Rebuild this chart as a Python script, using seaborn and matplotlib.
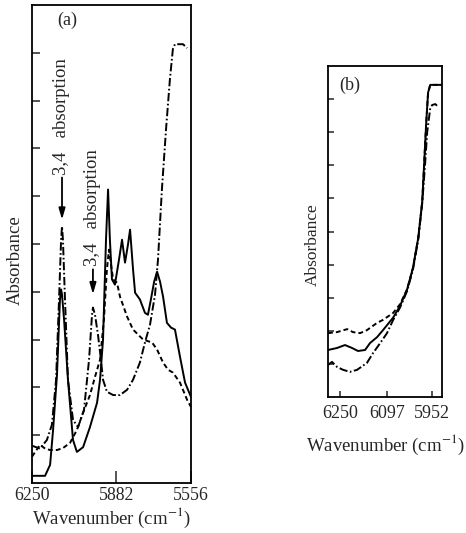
import matplotlib
matplotlib.use("Agg")
import matplotlib.pyplot as plt
import seaborn as sns
import pandas as pd

# ---------------- data: panel (a) ----------------
a_solid_wn = [6250, 6193, 6171, 6158, 6141, 6128, 6123, 6119, 6110, 6093,
              6071, 6054, 6027, 5997, 5966, 5953, 5940, 5927, 5918, 5910,
              5901, 5888, 5870, 5857, 5844, 5831, 5822, 5809, 5800, 5779,
              5757, 5744, 5731, 5717, 5704, 5691, 5678, 5661, 5643, 5626,
              5604, 5582, 5556]
a_solid_abs = [0.15, 0.15, 0.38, 1.11, 2.26, 3.84, 4.05, 3.94, 3.42, 2.16,
               0.90, 0.65, 0.75, 1.17, 1.68, 2.16, 3.00, 5.09, 6.14, 5.09,
               4.26, 4.15, 4.68, 5.09, 4.61, 4.99, 5.30, 4.47, 3.98, 3.84,
               3.56, 3.52, 3.84, 4.21, 4.42, 4.21, 3.90, 3.35, 3.25, 3.21,
               2.64, 2.10, 1.80]

a_dash_wn = [6250, 6215, 6193, 6171, 6141, 6115, 6084, 6054, 6027, 5997,
             5975, 5953, 5936, 5923, 5914, 5905, 5896, 5879, 5866, 5835,
             5809, 5765, 5726, 5704, 5678, 5656, 5635, 5604, 5573, 5556]
a_dash_abs = [0.55, 0.80, 0.72, 0.69, 0.69, 0.73, 0.84, 1.11, 1.47, 1.84,
              2.22, 2.58, 3.42, 4.47, 4.88, 4.57, 4.26, 4.19, 3.90, 3.48,
              3.21, 3.00, 2.94, 2.79, 2.52, 2.37, 2.31, 2.10, 1.74, 1.59]

a_dashdot_wn = [6250, 6215, 6185, 6163, 6145, 6132, 6123, 6119, 6115, 6106,
                6093, 6071, 6049, 6023, 6001, 5988, 5984, 5975, 5962, 5949,
                5940, 5923, 5896, 5866, 5835, 5809, 5779, 5757, 5735, 5713,
                5700, 5683, 5665, 5648, 5635, 5626, 5591, 5573]
a_dashdot_abs = [0.78, 0.72, 0.90, 1.22, 2.16, 3.84, 5.09, 5.37, 5.09, 3.84,
                 2.16, 1.32, 1.17, 1.53, 2.58, 3.52, 3.67, 3.52, 3.10, 2.58,
                 2.16, 1.91, 1.84, 1.84, 1.95, 2.16, 2.52, 2.94, 3.31, 3.94,
                 4.68, 6.14, 7.40, 8.45, 9.08, 9.18, 9.18, 9.10]

a_xticks = [6250, 5882, 5556]
a_peak_labels = ["3,4   absorption", "3,4   absorption"]

# ---------------- data: panel (b) ----------------
b_solid_wn = [6289, 6260, 6234, 6211, 6192, 6169, 6153, 6130, 6111, 6078,
              6056, 6033, 6014, 5997, 5984, 5978, 5971, 5965, 5958, 5920]
b_solid_abs = [1.42, 1.48, 1.57, 1.48, 1.39, 1.42, 1.63, 1.81, 2.02, 2.40,
               2.75, 3.25, 3.90, 4.80, 5.90, 7.00, 8.30, 9.20, 9.43, 9.43]

b_dash_wn = [6289, 6260, 6227, 6208, 6185, 6163, 6130, 6111, 6078, 6056,
             6033, 6014, 5997, 5984, 5978, 5971, 5965, 5958, 5920]
b_dash_abs = [1.93, 1.96, 2.05, 1.96, 1.93, 2.02, 2.24, 2.33, 2.54, 2.80,
              3.25, 3.90, 4.80, 5.90, 7.00, 8.30, 9.20, 9.43, 9.43]

b_dashdot_wn = [6289, 6276, 6260, 6240, 6218, 6195, 6163, 6143, 6120, 6098,
                6078, 6056, 6033, 6014, 5997, 5984, 5975, 5968, 5958, 5952,
                5942, 5936]
b_dashdot_abs = [0.97, 1.06, 0.91, 0.82, 0.76, 0.82, 1.03, 1.33, 1.63, 1.93,
                 2.33, 2.70, 3.20, 3.85, 4.75, 5.85, 7.00, 8.00, 8.73, 8.82,
                 8.85, 8.80]

b_xticks = [6250, 6097, 5952]

# ---------------- style ----------------
sns.set_style("white")
plt.rcParams["font.family"] = ["Liberation Serif", "DejaVu Serif"]
plt.rcParams["mathtext.fontset"] = "stix"
plt.rcParams["lines.scale_dashes"] = False
plt.rcParams["axes.edgecolor"] = "black"
plt.rcParams["axes.linewidth"] = 1.3

DASH = (0, (3.5, 2.2))
DASHDOT = (0, (6, 1.8, 1.2, 1.8))
LW = 1.4

fig = plt.figure(figsize=(4.66, 5.33), dpi=100)
axa = fig.add_axes([32 / 466, 50 / 533, 159 / 466, 478 / 533])
axb = fig.add_axes([328 / 466, 136 / 533, 114 / 466, 331 / 533])


def draw(ax, wn, ab, ls):
    df = pd.DataFrame({"wn": wn, "abs": ab})
    sns.lineplot(data=df, x="wn", y="abs", ax=ax, color="black",
                 linestyle=ls, linewidth=LW, sort=False, estimator=None)


draw(axa, a_solid_wn, a_solid_abs, "-")
draw(axa, a_dash_wn, a_dash_abs, DASH)
draw(axa, a_dashdot_wn, a_dashdot_abs, DASHDOT)

draw(axb, b_solid_wn, b_solid_abs, "-")
draw(axb, b_dash_wn, b_dash_abs, DASH)
draw(axb, b_dashdot_wn, b_dashdot_abs, DASHDOT)

# axes (a)
axa.set_xlim(6250, 5556)
axa.set_ylim(0, 10)
axa.set_xticks(a_xticks)
axa.set_xticklabels([str(t) for t in a_xticks], fontsize=12.8)
axa.set_yticks(range(1, 10))
axa.set_yticklabels([])
axa.tick_params(axis="y", direction="in", length=6, width=1.1, left=True)
axa.tick_params(axis="x", direction="in", length=9, width=1.1, pad=3, bottom=True)
axa.set_xlabel("")
axa.set_ylabel("")
axa.text(0.22, 0.967, "(a)", transform=axa.transAxes, fontsize=13,
         ha="center", va="center")

# peak annotations (arrows point to the dash-dot peaks)
i1 = a_dashdot_abs.index(max(a_dashdot_abs[:12]))
i2 = 16
for idx, lab, gap, length in [(i1, a_peak_labels[0], 0.14, 0.88),
                              (i2, a_peak_labels[1], 0.28, 0.52)]:
    xw = a_dashdot_wn[idx]
    tip = a_dashdot_abs[idx] + gap
    tail = tip + length
    axa.annotate("", xy=(xw, tip), xytext=(xw, tail),
                 arrowprops=dict(arrowstyle="-|>,head_length=0.55,head_width=0.16",
                                 color="black", lw=1.3, shrinkA=0, shrinkB=0,
                                 mutation_scale=12))
    axa.text(xw + 4, tail + 0.06, lab, rotation=90, ha="center", va="bottom",
             fontsize=13.5)

# axes (b)
axb.set_xlim(6289, 5920)
axb.set_ylim(0, 10)
axb.set_xticks(b_xticks)
axb.set_xticklabels([str(t) for t in b_xticks], fontsize=13)
axb.set_yticks(range(1, 10))
axb.set_yticklabels([])
axb.tick_params(axis="y", direction="in", length=4, width=1.1, left=True)
axb.tick_params(axis="x", direction="in", length=4, width=1.1, pad=6, bottom=True)
axb.set_xlabel("")
axb.set_ylabel("")
axb.text(0.19, 0.943, "(b)", transform=axb.transAxes, fontsize=13,
         ha="center", va="center")

# labels
fig.text(15 / 466, 1 - 260 / 533, "Absorbance", rotation=90, ha="center",
         va="center", fontsize=13.5)
fig.text(111 / 466, 1 - 518 / 533, "Wavenumber (cm$^{-1}$)", ha="center",
         va="center", fontsize=13.5)
fig.text(313 / 466, 1 - 245 / 533, "Absorbance", rotation=90, ha="center",
         va="center", fontsize=12.5)
fig.text(385 / 466, 1 - 445 / 533, "Wavenumber (cm$^{-1}$)", ha="center",
         va="center", fontsize=13.5)

fig.savefig("out.png", dpi=100)
